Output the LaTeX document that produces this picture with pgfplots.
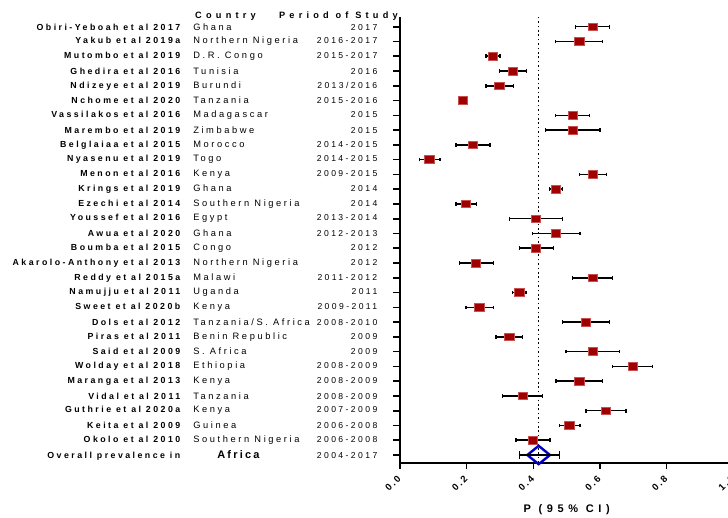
\documentclass[border=0pt]{standalone}
\usepackage{fontspec}
\setmainfont{Liberation Sans}
\newfontfamily\spcA[LetterSpace=28]{Liberation Sans}
\newfontfamily\spcB[LetterSpace=28]{Liberation Sans}
\newfontfamily\spcH[LetterSpace=46]{Liberation Sans}
\newfontfamily\spcX[LetterSpace=22]{Liberation Sans}
\newfontfamily\spcL[LetterSpace=42]{Liberation Sans}
\newfontfamily\spcAf[LetterSpace=20]{Liberation Sans}
\usepackage{pgfplots}
\pgfplotsset{compat=1.18}
\usepackage{pgfplotstable}
\definecolor{sqfill}{HTML}{A00000}
\definecolor{sqdraw}{HTML}{C85050}
\definecolor{dblue}{HTML}{0000CC}

\newcommand{\lbl}[3]{\makebox[183pt][r]{\spcA\bfseries\fontsize{8.8}{9}\selectfont #1}\hspace{13pt}\makebox[184pt][l]{\spcB\fontsize{9.3}{10}\selectfont #2}\llap{\spcB\fontsize{8.6}{10}\selectfont #3}}

% y = 31 - row ; p, lower CI, upper CI
\pgfplotstableread{
y p lo hi
30 0.578 0.527 0.628
29 0.538 0.467 0.608
28 0.278 0.258 0.300
27 0.338 0.298 0.380
26 0.298 0.258 0.340
25 0.188 0.178 0.202
24 0.518 0.467 0.568
23 0.518 0.437 0.600
22 0.218 0.168 0.270
21 0.088 0.058 0.120
20 0.578 0.538 0.620
19 0.468 0.448 0.488
18 0.198 0.168 0.230
17 0.408 0.328 0.488
16 0.468 0.398 0.540
15 0.408 0.358 0.460
14 0.228 0.178 0.280
13 0.578 0.518 0.638
12 0.358 0.338 0.378
11 0.238 0.198 0.280
10 0.558 0.488 0.628
9 0.328 0.288 0.368
8 0.578 0.498 0.658
7 0.698 0.638 0.758
6 0.538 0.468 0.608
5 0.368 0.308 0.428
4 0.618 0.558 0.678
3 0.508 0.478 0.540
2 0.398 0.348 0.450
}\studies
\pgfplotstableread{
y p lo hi
1 0.416 0.358 0.478
}\overall

\begin{document}
\begin{tikzpicture}
\useasboundingbox (0pt,0pt) rectangle (728pt,-517pt);
\begin{axis}[
  at={(400pt,-462.7pt)}, anchor=south west,
  scale only axis, width=333.3pt, height=445.7pt,
  xmin=0, xmax=1, ymin=0.479, ymax=30.657,
  axis x line=bottom, axis y line=left,
  axis line style={line width=1.8pt, -},
  xtick={0,0.2,0.4,0.6,0.8,1},
  xticklabels={0.0,0.2,0.4,0.6,0.8,1.0},
  xticklabel style={yshift=-7pt, rotate=45, anchor=east, font=\spcX\bfseries\fontsize{9.5}{10}\selectfont, inner sep=1pt},
  ytick={1,...,30},
  yticklabels={
    {\lbl{Overall prevalence in}{\hspace*{24pt}{\spcAf\bfseries\fontsize{11}{12}\selectfont Africa}}{2004-2017}},
    {\lbl{Okolo et al 2010}{Southern Nigeria}{2006-2008}},
    {\lbl{Keita et al 2009}{Guinea}{2006-2008}},
    {\lbl{Guthrie et al 2020a}{Kenya}{2007-2009}},
    {\lbl{Vidal et al 2011}{Tanzania}{2008-2009}},
    {\lbl{Maranga et al 2013}{Kenya}{2008-2009}},
    {\lbl{Wolday et al 2018}{Ethiopia}{2008-2009}},
    {\lbl{Said et al 2009}{S. Africa}{2009}},
    {\lbl{Piras et al 2011}{Benin Republic}{2009}},
    {\lbl{Dols et al 2012}{Tanzania/S. Africa}{2008-2010}},
    {\lbl{Sweet et al 2020b}{Kenya}{2009-2011}},
    {\lbl{Namujju et al 2011}{Uganda}{2011}},
    {\lbl{Reddy et al 2015a}{Malawi}{2011-2012}},
    {\lbl{Akarolo-Anthony et al 2013}{Northern Nigeria}{2012}},
    {\lbl{Boumba et al 2015}{Congo}{2012}},
    {\lbl{Awua et al 2020}{Ghana}{2012-2013}},
    {\lbl{Youssef et al 2016}{Egypt}{2013-2014}},
    {\lbl{Ezechi et al 2014}{Southern Nigeria}{2014}},
    {\lbl{Krings et al 2019}{Ghana}{2014}},
    {\lbl{Menon et al 2016}{Kenya}{2009-2015}},
    {\lbl{Nyasenu et al 2019}{Togo}{2014-2015}},
    {\lbl{Belglaiaa et al 2015}{Morocco}{2014-2015}},
    {\lbl{Marembo et al 2019}{Zimbabwe}{2015}},
    {\lbl{Vassilakos et al 2016}{Madagascar}{2015}},
    {\lbl{Nchome et al 2020}{Tanzania}{2015-2016}},
    {\lbl{Ndizeye et al 2019}{Burundi}{2013/2016}},
    {\lbl{Ghedira et al 2016}{Tunisia}{2016}},
    {\lbl{Mutombo et al 2019}{D.R. Congo}{2015-2017}},
    {\lbl{Yakub et al 2019a}{Northern Nigeria}{2016-2017}},
    {\lbl{Obiri-Yeboah et al 2017}{Ghana}{2017}}
  },
  yticklabel style={inner sep=0pt, anchor=east, xshift=-16pt},
  tick align=outside,
  major tick length=6.5pt,
  tick style={line width=1.6pt, black},
  clip=false,
  xlabel={P (95\% CI)},
  xlabel style={at={(axis description cs:0.5,0)}, anchor=center, yshift=-47pt, font=\spcL\bfseries\fontsize{11}{12}\selectfont},
]
% reference line at the pooled estimate
\addplot[black, line width=1.6pt, dash pattern=on 1.6pt off 2.8pt] coordinates {(0.416,0.479) (0.416,30.657)};
% study squares
\addplot[only marks, mark=square*, mark size=4.8pt,
  mark options={fill=sqfill, draw=sqdraw, line width=0.6pt, yscale=0.8}]
  table[x=p, y=y] {\studies};
% confidence intervals
\addplot[draw=none, mark=none,
  error bars/.cd, x dir=both, x explicit,
  error bar style={draw=black, line width=1.5pt},
  error mark options={draw=black, line width=1.3pt, mark size=1.8pt, rotate=90}]
  table[x=p, y=y, x error plus expr=\thisrow{hi}-\thisrow{p}, x error minus expr=\thisrow{p}-\thisrow{lo}] {\studies};
% pooled diamond
\addplot[dblue, line width=2.4pt, line join=miter, mark=none] coordinates {(0.382,1) (0.416,1.62) (0.450,1) (0.416,0.38) (0.382,1)};
\addplot[draw=none, mark=none,
  error bars/.cd, x dir=both, x explicit,
  error bar style={draw=black, line width=1.4pt},
  error mark options={draw=black, line width=1.4pt, mark size=4.3pt, rotate=90}]
  table[x=p, y=y, x error plus expr=\thisrow{hi}-\thisrow{p}, x error minus expr=\thisrow{p}-\thisrow{lo}] {\overall};
\end{axis}
\node[anchor=base west, font=\spcH\bfseries\fontsize{9.2}{10}\selectfont, inner sep=0pt] at (195pt,-18.7pt) {Country};
\node[anchor=base east, font=\spcH\bfseries\fontsize{9.2}{10}\selectfont, inner sep=0pt] at (398pt,-18.7pt) {Period of Study};
\end{tikzpicture}
\end{document}
